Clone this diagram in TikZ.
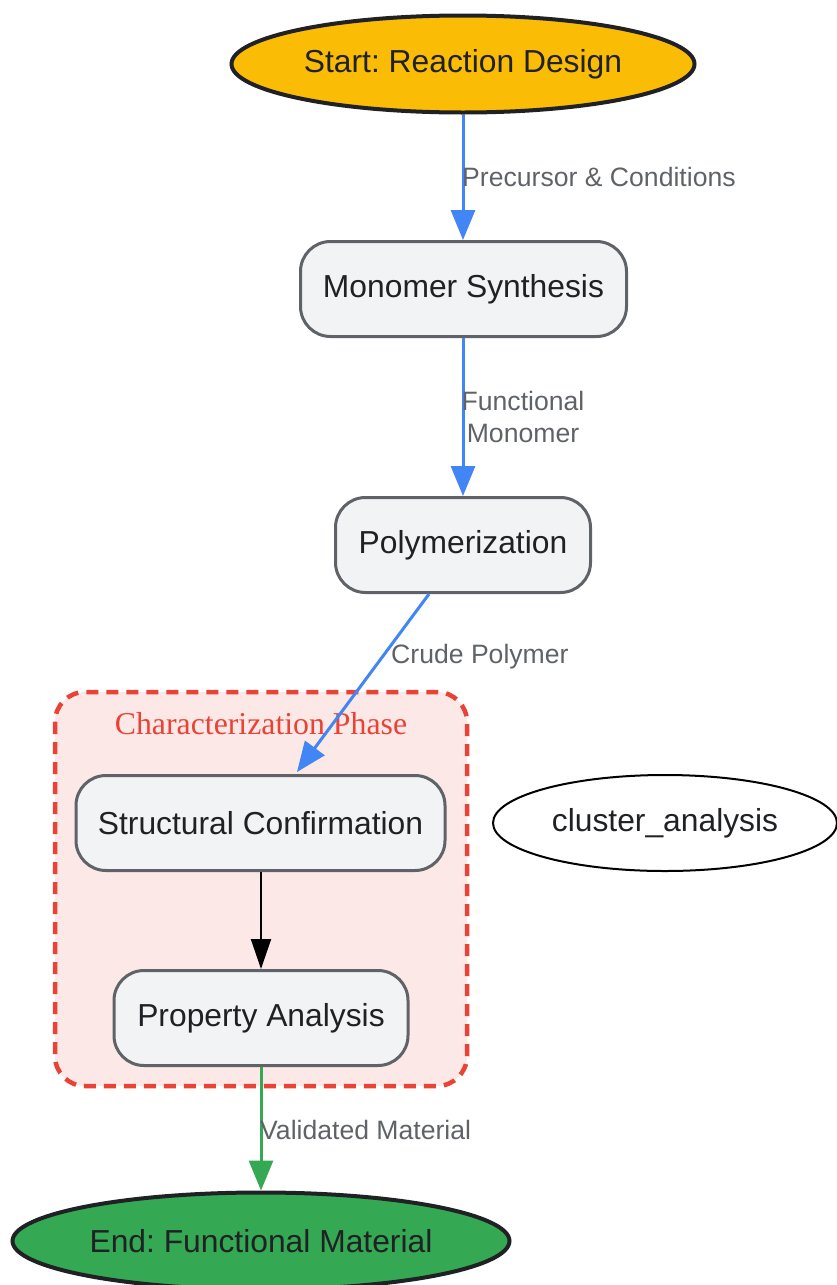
\documentclass[tikz,border=0pt]{standalone}
\usepackage{fontspec}
\setmainfont{Liberation Sans}
\newfontfamily\serifcl{Liberation Serif}
\usetikzlibrary{shapes.geometric,arrows.meta}
\frenchspacing
\definecolor{gold}{HTML}{FBBC05}
\definecolor{ggreen}{HTML}{34A853}
\definecolor{gblue}{HTML}{4285F4}
\definecolor{gred}{HTML}{EA4335}
\definecolor{clfill}{HTML}{FCE8E6}
\definecolor{boxfill}{HTML}{F1F3F4}
\definecolor{boxline}{HTML}{5F6368}
\definecolor{txt}{HTML}{202124}
\definecolor{lbl}{HTML}{5F6368}
\tikzset{
  term/.style={ellipse, draw=txt, line width=4pt, inner sep=0pt, text=txt, font=\fontsize{31.8}{36}\selectfont},
  procbox/.style={rectangle, rounded corners=30pt, draw=boxline, fill=boxfill, line width=3pt, inner sep=0pt, text=txt, font=\fontsize{31.8}{36}\selectfont, minimum height=95pt},
  elabel/.style={text=lbl, font=\fontsize{26.6}{32}\selectfont, inner sep=0pt},
  flow/.style={line width=3pt, -{Triangle[length=30pt,width=24pt]}},
}
\begin{document}
\begin{tikzpicture}[x=1pt,y=-1pt]
\useasboundingbox (0,0) rectangle (837,1285);
% cluster
\draw[gred, fill=clfill, line width=4.5pt, dash pattern=on 12pt off 8pt, rounded corners=30pt] (55,692) rectangle (467,1086);
\node[text=gred, font=\serifcl\fontsize{31.8}{36}\selectfont, inner sep=0pt] (cltitle) at (261,724) {Characterization Phase};
% nodes
\node[term, fill=gold, minimum width=463pt, minimum height=97pt] (start) at (463,64) {Start: Reaction Design};
\node[procbox, minimum width=326pt] (mono) at (463.5,289) {Monomer Synthesis};
\node[procbox, minimum width=255pt] (poly) at (463,545) {Polymerization};
\node[procbox, minimum width=369pt] (struct) at (260.5,823) {Structural Confirmation};
\node[procbox, minimum width=294pt] (prop) at (261,1018) {Property Analysis};
\node[ellipse, draw=black, line width=2pt, inner sep=0pt, minimum width=344pt, minimum height=96pt, text=txt, font=\fontsize{31.8}{36}\selectfont] (clan) at (665,823) {cluster\_analysis};
\node[term, fill=ggreen, minimum width=497pt, minimum height=97pt] (end) at (261,1241) {End: Functional Material};
% edges
\draw[flow, gblue] (start.south) -- (start.south |- mono.north);
\node[elabel, anchor=west] (l1) at (462,177) {Precursor \& Conditions};
\draw[flow, gblue] (mono.south -| poly.north) -- (poly.north);
\node[elabel, align=center] (l2) at (523,417) {Functional\\Monomer};
\draw[flow, gblue] (poly.south) ++(-34,0) coordinate (pa) (pa) -- (297,772) coordinate (pb);
\node[elabel, anchor=west] (l3) at (391,657) {Crude Polymer};
\draw[line width=2pt, black, -{Triangle[length=30pt,width=20pt]}] (struct.south -| prop.north) -- (prop.north);
\draw[flow, ggreen] (prop) -- (end);
\node[elabel, anchor=west] (l4) at (260,1130) {Validated Material};
\end{tikzpicture}
\end{document}
